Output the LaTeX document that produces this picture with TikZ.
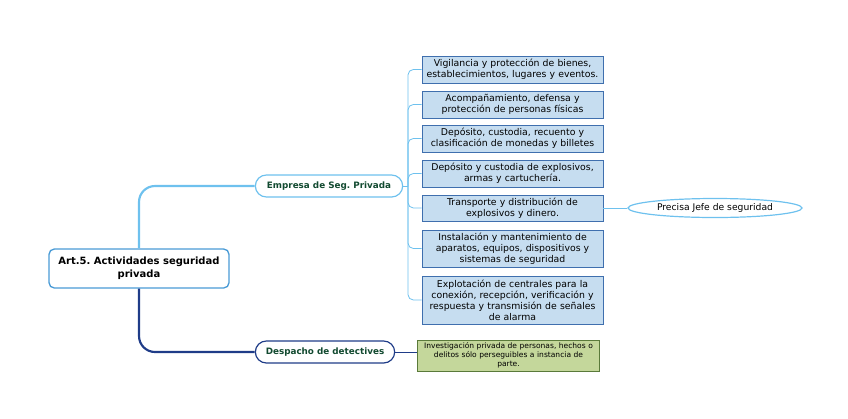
\documentclass[tikz,border=0pt]{standalone}
\usepackage{fontspec}
\setmainfont{DejaVu Sans}
\usepackage{tikz}
\usetikzlibrary{shapes,positioning}
\frenchspacing
\definecolor{lineblue}{HTML}{6EC1EE}
\definecolor{rootblue}{HTML}{4A9BD6}
\definecolor{boxfill}{HTML}{C6DDF0}
\definecolor{boxdraw}{HTML}{3F6FAE}
\definecolor{darkblue}{HTML}{1F3C88}
\definecolor{greenfill}{HTML}{C4D79B}
\definecolor{greendraw}{HTML}{5A7A3A}
\definecolor{txtgreen}{HTML}{124A30}

\begin{document}
\begin{tikzpicture}[x=0.75pt, y=-0.75pt,
    every node/.style={align=center},
    rootbox/.style={draw=rootblue, line width=1pt, fill=white, rounded corners=4pt,
      minimum width=180*0.75pt, minimum height=39*0.75pt, inner sep=1pt,
      font=\fontsize{7.5}{9.4}\selectfont\bfseries},
    topic/.style={draw, rounded rectangle, line width=0.9pt, fill=white, text=txtgreen,
      minimum height=22*0.75pt, inner sep=1pt, font=\fontsize{6.6}{8}\selectfont\bfseries},
    item/.style={draw=boxdraw, fill=boxfill, line width=0.6pt, text width=178*0.75pt,
      minimum width=181*0.75pt, inner sep=1pt, font=\fontsize{7}{8.25}\selectfont},
    link/.style={lineblue, line width=0.6pt, rounded corners=4pt}]
    \useasboundingbox (0,0) rectangle (848,418);

    \node(root) [rootbox] at (139, 268.5) {Art.5. Actividades seguridad\\privada};
    \node(emp) [topic, draw=lineblue, minimum width=150*0.75pt] at (329, 186) {Empresa de Seg. Privada};
    \node(det) [topic, draw=darkblue, minimum width=142*0.75pt] at (325, 352) {Despacho de detectives};

    \node(1) [item, minimum height=27*0.75pt] at (512.5, 69.5) {Vigilancia y protección de bienes,\\establecimientos, lugares y eventos.};
    \node(2) [item, minimum height=27*0.75pt] at (512.5, 104.5) {Acompañamiento, defensa y\\protección de personas físicas};
    \node(3) [item, minimum height=27*0.75pt] at (512.5, 138.5) {Depósito, custodia, recuento y\\clasificación de monedas y billetes};
    \node(4) [item, minimum height=27*0.75pt] at (512.5, 173.5) {Depósito y custodia de explosivos,\\armas y cartuchería.};
    \node(5) [item, minimum height=26*0.75pt] at (512.5, 208) {Transporte y distribución de\\explosivos y dinero.};
    \node(6) [item, minimum height=37*0.75pt] at (512.5, 248.5) {Instalación y mantenimiento de\\aparatos, equipos, dispositivos y\\sistemas de seguridad};
    \node(7) [item, minimum height=48*0.75pt] at (512.5, 300) {Explotación de centrales para la\\conexión, recepción, verificación y\\respuesta y transmisión de señales\\de alarma};

    \node(jefe) [draw=lineblue, ellipse, line width=0.9pt, minimum width=174*0.75pt, minimum height=19*0.75pt,
      inner sep=0pt, font=\fontsize{6.9}{8}\selectfont] at (715, 208) {Precisa Jefe de seguridad};
    \node(inv) [draw=greendraw, fill=greenfill, line width=0.6pt, text width=179*0.75pt,
      minimum width=181*0.75pt, minimum height=31*0.75pt, inner sep=1pt,
      font=\fontsize{5.65}{6.6}\selectfont] at (508.5, 355.5) {Investigación privada de personas, hechos o\\delitos sólo perseguibles a instancia de\\parte.};

    % ramas principales
    \draw[lineblue, line width=1.6pt, rounded corners=12pt] (root.north) |- (emp.west);
    \draw[darkblue, line width=1.6pt, rounded corners=12pt] (root.south) |- (det.west);

    % ramas de la empresa
    \coordinate (t) at (408, 186);
    \draw[link] (emp.east) -- (t);
    \foreach \i in {1,...,7}
      \draw[link] (t) |- (\i.west);

    \draw[link] (5.east) -- (jefe.west);
    \draw[darkblue, line width=0.6pt] (det.east) -- (inv.west |- det.east);
\end{tikzpicture}
\end{document}
